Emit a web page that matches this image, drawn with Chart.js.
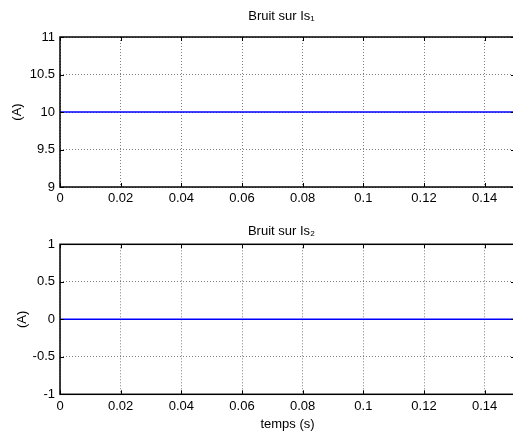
<!DOCTYPE html>
<html>
<head>
<meta charset="utf-8">
<script src="https://cdn.jsdelivr.net/npm/chart.js@4.4.1/dist/chart.umd.min.js"></script>
<style>
  html, body { margin: 0; padding: 0; background: #fff; overflow: hidden; }
  .wrap { position: absolute; left: 0; width: 516px; height: 218px; }
</style>
</head>
<body>
<div class="wrap" style="top:0"><canvas id="c1"></canvas></div>
<div class="wrap" style="top:218px"><canvas id="c2"></canvas></div>
<script>
// données
const temps = [0, 0.02, 0.04, 0.06, 0.08, 0.1, 0.12, 0.14, 0.15];
const bruitIs1 = [10, 10, 10, 10, 10, 10, 10, 10, 10];
const bruitIs2 = [0, 0, 0, 0, 0, 0, 0, 0, 0];

const xTicks = [0, 0.02, 0.04, 0.06, 0.08, 0.1, 0.12, 0.14];
const xTickLabels = ["0", "0.02", "0.04", "0.06", "0.08", "0.1", "0.12", "0.14"];
const y1Ticks = [9, 9.5, 10, 10.5, 11];
const y1TickLabels = ["9", "9.5", "10", "10.5", "11"];
const y2Ticks = [-1, -0.5, 0, 0.5, 1];
const y2TickLabels = ["-1", "-0.5", "0", "0.5", "1"];

const FONT = { family: "'Liberation Sans', Arial, sans-serif", size: 13 };

// cadre noir + petites graduations vers l'intérieur (style matlab) + titre centré sur les axes
const boxPlugin = {
    id: 'box',
    afterDraw(chart, args, o) {
        const { ctx, chartArea: a, scales } = chart;
        ctx.save();
        ctx.strokeStyle = '#000';
        ctx.lineWidth = 1;
        ctx.beginPath();
        scales.x.ticks.forEach(t => {
            const px = Math.round(scales.x.getPixelForValue(t.value)) + 0.5;
            ctx.moveTo(px, a.bottom); ctx.lineTo(px, a.bottom - 4);
            ctx.moveTo(px, a.top); ctx.lineTo(px, a.top + 4);
        });
        scales.y.ticks.forEach(t => {
            const py = Math.round(scales.y.getPixelForValue(t.value)) + 0.5;
            ctx.moveTo(a.left, py); ctx.lineTo(a.left + 4, py);
            ctx.moveTo(a.right, py); ctx.lineTo(a.right - 4, py);
        });
        ctx.stroke();
        ctx.lineWidth = 1.5;
        ctx.strokeRect(a.left, a.top, a.right - a.left, a.bottom - a.top);

        ctx.fillStyle = '#000';
        ctx.font = `${FONT.size}px ${FONT.family}`;
        ctx.textAlign = 'center';
        ctx.textBaseline = 'middle';
        ctx.fillText(o.text, (a.left + a.right) / 2 - 6, o.y);
        ctx.restore();
    }
};

function makeChart(canvasId, values, yTicks, yLabels, opts) {
    const ctx = document.getElementById(canvasId).getContext('2d');
    return new Chart(ctx, {
        type: 'line',
        data: {
            datasets: [{
                data: temps.map((t, i) => ({ x: t, y: values[i] })),
                borderColor: '#0000ff',
                borderWidth: 1.5,
                pointRadius: 0,
                tension: 0,
                fill: false
            }]
        },
        options: {
            responsive: true,
            maintainAspectRatio: false,
            animation: false,
            layout: { padding: { left: 0, right: 1, top: opts.top, bottom: 0 } },
            plugins: {
                legend: { display: false },
                tooltip: { enabled: false },
                title: { display: false },
                box: { text: opts.title, y: opts.titleY }
            },
            scales: {
                x: {
                    type: 'linear',
                    min: 0,
                    max: 0.15,
                    afterBuildTicks: s => { s.ticks = xTicks.map(v => ({ value: v })); },
                    afterFit: s => { s.height = opts.xHeight; },
                    ticks: {
                        color: '#000',
                        font: FONT,
                        padding: 4,
                        maxRotation: 0,
                        autoSkip: false,
                        callback: (v, i) => xTickLabels[i]
                    },
                    grid: { color: 'rgba(0,0,0,0.5)', lineWidth: 1, drawTicks: false },
                    border: { display: false, dash: [1, 2] },
                    title: {
                        display: !!opts.xTitle,
                        text: opts.xTitle || '',
                        color: '#000',
                        font: FONT,
                        padding: { top: 0, bottom: 4 }
                    }
                },
                y: {
                    type: 'linear',
                    min: yTicks[0],
                    max: yTicks[yTicks.length - 1],
                    afterBuildTicks: s => { s.ticks = yTicks.map(v => ({ value: v })); },
                    afterFit: s => { s.width = 60; },
                    ticks: {
                        color: '#000',
                        font: FONT,
                        padding: 5,
                        autoSkip: false,
                        callback: (v, i) => yLabels[i]
                    },
                    grid: { color: 'rgba(0,0,0,0.5)', lineWidth: 1, drawTicks: false },
                    border: { display: false, dash: [1, 2] },
                    title: {
                        display: true,
                        text: '(A)',
                        color: '#000',
                        font: FONT,
                        padding: { top: opts.yTitlePad, bottom: 0 }
                    }
                }
            }
        },
        plugins: [boxPlugin]
    });
}

makeChart('c1', bruitIs1, y1Ticks, y1TickLabels, {
    title: 'Bruit sur Is\u2081',
    top: 37,
    titleY: 16.5,
    xHeight: 31,
    yTitlePad: 10
});

makeChart('c2', bruitIs2, y2Ticks, y2TickLabels, {
    title: 'Bruit sur Is\u2082',
    top: 26.3,
    titleY: 13,
    xHeight: 41.7,
    xTitle: 'temps (s)',
    yTitlePad: 15
});
</script>
</body>
</html>
